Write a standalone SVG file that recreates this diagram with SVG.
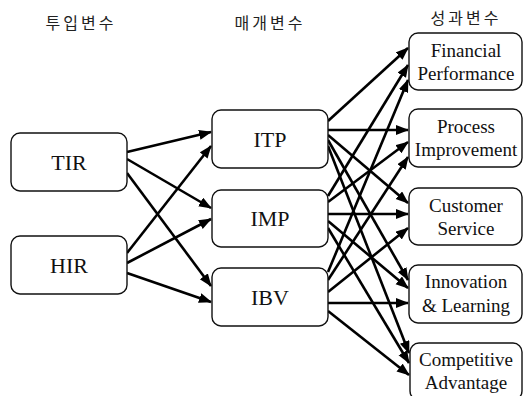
<svg xmlns="http://www.w3.org/2000/svg" width="525" height="396" viewBox="0 0 525 396">
  <style>
    .box { fill: #ffffff; stroke: #111; stroke-width: 1.4; }
    .lbl { fill: #111; text-anchor: middle; }
    .big { font-size: 22px; }
    .small { font-size: 19px; }
    .head { font-family: 'Noto Sans CJK KR', 'Noto Sans', sans-serif; font-size: 16px; fill: #222; text-anchor: middle; letter-spacing: 3px; }
    .edge { stroke: #000; stroke-width: 2.6; fill: none; marker-end: url(#arrow); }
  </style>
  <defs>
    <marker id="arrow" markerUnits="userSpaceOnUse" markerWidth="14" markerHeight="12" refX="12" refY="5" orient="auto">
      <path d="M0,0 L13,5 L0,10 z" fill="#000"/>
    </marker>
  </defs>

  <rect width="525" height="396" fill="#ffffff"/>

  <!-- column headings -->
  <text class="head" x="81" y="29">투입변수</text>
  <text class="head" x="270" y="29">매개변수</text>
  <text class="head" x="466" y="24">성과변수</text>

  <!-- connectors -->
  <g id="connectors">
    <!-- inputs to mediators -->
    <line class="edge" x1="127" y1="152" x2="211" y2="132"/>
    <line class="edge" x1="127" y1="159" x2="211" y2="208"/>
    <line class="edge" x1="127" y1="173" x2="211" y2="286"/>
    <line class="edge" x1="127" y1="253" x2="211" y2="146"/>
    <line class="edge" x1="127" y1="263" x2="211" y2="219"/>
    <line class="edge" x1="127" y1="273" x2="211" y2="302"/>

    <!-- ITP to outcomes -->
    <line class="edge" x1="328" y1="121" x2="408" y2="48"/>
    <line class="edge" x1="328" y1="130" x2="408" y2="130"/>
    <line class="edge" x1="328" y1="135" x2="408" y2="203"/>
    <line class="edge" x1="328" y1="140" x2="408" y2="280"/>
    <line class="edge" x1="328" y1="146" x2="409" y2="353"/>

    <!-- IMP to outcomes -->
    <line class="edge" x1="328" y1="196" x2="408" y2="65"/>
    <line class="edge" x1="328" y1="202" x2="408" y2="142"/>
    <line class="edge" x1="328" y1="214" x2="408" y2="214"/>
    <line class="edge" x1="328" y1="221" x2="408" y2="288"/>
    <line class="edge" x1="328" y1="228" x2="409" y2="363"/>

    <!-- IBV to outcomes -->
    <line class="edge" x1="328" y1="272" x2="408" y2="80"/>
    <line class="edge" x1="328" y1="280" x2="408" y2="157"/>
    <line class="edge" x1="328" y1="292" x2="408" y2="228"/>
    <line class="edge" x1="328" y1="303" x2="408" y2="303"/>
    <line class="edge" x1="328" y1="311" x2="409" y2="375"/>
  </g>

  <g font-family="Liberation Serif, Tinos, Times New Roman, serif">
    <!-- input variables -->
    <g id="TIR">
      <rect class="box" x="11" y="133" width="116" height="58" rx="9"/>
      <text class="lbl big" x="69" y="170">TIR</text>
    </g>
    <g id="HIR">
      <rect class="box" x="11" y="236" width="116" height="58" rx="9"/>
      <text class="lbl big" x="69" y="273">HIR</text>
    </g>

    <!-- mediating variables -->
    <g id="ITP">
      <rect class="box" x="212" y="110" width="116" height="58" rx="9"/>
      <text class="lbl big" x="270" y="147">ITP</text>
    </g>
    <g id="IMP">
      <rect class="box" x="212" y="190" width="116" height="57" rx="9"/>
      <text class="lbl big" x="270" y="226">IMP</text>
    </g>
    <g id="IBV">
      <rect class="box" x="212" y="268" width="116" height="58" rx="9"/>
      <text class="lbl big" x="270" y="305">IBV</text>
    </g>

    <!-- outcome variables -->
    <g id="FinancialPerformance">
      <rect class="box" x="409" y="33" width="113" height="57" rx="9"/>
      <text class="lbl small" x="466" y="57">Financial</text>
      <text class="lbl small" x="466" y="80">Performance</text>
    </g>
    <g id="ProcessImprovement">
      <rect class="box" x="409" y="109" width="113" height="58" rx="9"/>
      <text class="lbl small" x="466" y="133">Process</text>
      <text class="lbl small" x="466" y="156">Improvement</text>
    </g>
    <g id="CustomerService">
      <rect class="box" x="409" y="188" width="113" height="57" rx="9"/>
      <text class="lbl small" x="466" y="212">Customer</text>
      <text class="lbl small" x="466" y="235">Service</text>
    </g>
    <g id="InnovationLearning">
      <rect class="box" x="409" y="265" width="113" height="58" rx="9"/>
      <text class="lbl small" x="466" y="288">Innovation</text>
      <text class="lbl small" x="466" y="312">&amp; Learning</text>
    </g>
    <g id="CompetitiveAdvantage">
      <rect class="box" x="410" y="343" width="112" height="57" rx="9"/>
      <text class="lbl small" x="466" y="366">Competitive</text>
      <text class="lbl small" x="466" y="389">Advantage</text>
    </g>
  </g>
</svg>
